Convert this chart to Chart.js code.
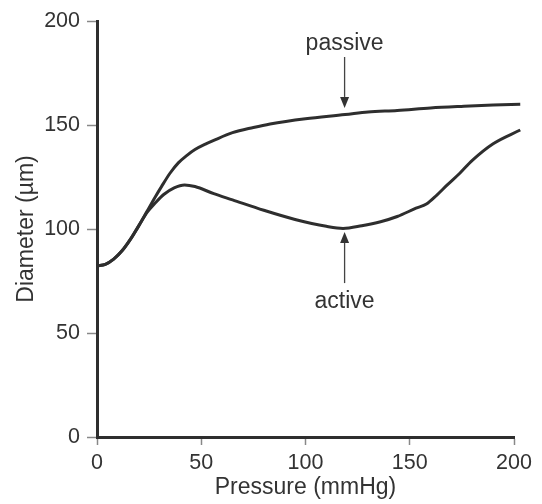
<!DOCTYPE html>
<html>
<head>
<meta charset="utf-8">
<script src="https://cdn.jsdelivr.net/npm/chart.js@4/dist/chart.umd.min.js"></script>
<style>
html,body{margin:0;padding:0;background:#fff;}
#wrap{width:542px;height:504px;}
</style>
</head>
<body>
<div id="wrap"><canvas id="c" width="542" height="504"></canvas></div>
<script>
// ---- data ----
const pressureActive = [0,4,8,12,16,20,24,28,32,37,42,47,56,65,80,95,110,118,127,136,144,153,158,163,168,174,180,190,203];
const diameterActive = [82.3,83,85.5,89.5,95,101.5,108,112.6,116.6,119.8,121.2,120.4,117,114,109,104.6,101.3,100.3,101.6,103.5,106,110,112,116.3,121.2,126.8,133,141,147.6];
const pressurePassive = [0,4,8,12,16,20,24,28,31,35,39,43,47,52,56,65,75,83,100,119,130,144,160,176,190,203];
const diameterPassive = [82.3,83,85.5,89.5,95,101.5,108.5,115.5,120.5,126.8,131.8,135.3,138.2,140.8,142.6,146.3,148.8,150.5,153,155,156.3,157,158.2,159,159.6,160];
const xTicks = [0,50,100,150,200];
const yTicks = [0,50,100,150,200];
const xTitle = 'Pressure (mmHg)';
const yTitle = 'Diameter (\u00b5m)';
// annotations (data units)
const noteLabels = ['passive','active'];
const noteX = [118.75,118.75];
const noteLabelY = [186,62];
const noteArrowFromY = [182.7,74];
const noteArrowToY = [158.2,98.6];

const FONT = "'Liberation Sans', Arial, Helvetica, sans-serif";
const INK = '#2e2e2e';
const TXT = '#333333';

function pts(xs, ys){ return xs.map((x,i)=>({x:x,y:ys[i]})); }

const notesPlugin = {
  id:'notes',
  afterDatasetsDraw(chart){
    const ctx = chart.ctx, xs = chart.scales.x, ys = chart.scales.y;
    ctx.save();
    for (let i=0;i<noteLabels.length;i++){
      const px = xs.getPixelForValue(noteX[i]);
      const fy = ys.getPixelForValue(noteArrowFromY[i]);
      const ty = ys.getPixelForValue(noteArrowToY[i]);
      const dir = ty > fy ? 1 : -1;
      const head = 11, hw = 4.5;
      ctx.strokeStyle = '#444'; ctx.lineWidth = 1.3;
      ctx.beginPath(); ctx.moveTo(px, fy); ctx.lineTo(px, ty - dir*head); ctx.stroke();
      ctx.fillStyle = '#333';
      ctx.beginPath(); ctx.moveTo(px, ty); ctx.lineTo(px-hw, ty-dir*head); ctx.lineTo(px+hw, ty-dir*head); ctx.closePath(); ctx.fill();
      ctx.font = '23px ' + FONT; ctx.fillStyle = TXT; ctx.textAlign='center'; ctx.textBaseline='alphabetic';
      ctx.fillText(noteLabels[i], px, ys.getPixelForValue(noteLabelY[i]));
    }
    ctx.restore();
  }
};

const tickOpts = (ticks, pad) => ({
  color: TXT, font:{family:FONT,size:21.5}, padding: pad, autoSkip:false
});

new Chart(document.getElementById('c'), {
  type:'line',
  data:{ datasets:[
    {label:'passive', data:pts(pressurePassive, diameterPassive), borderColor:INK, borderWidth:3, pointRadius:0, cubicInterpolationMode:'monotone', fill:false, clip:false},
    {label:'active', data:pts(pressureActive, diameterActive), borderColor:INK, borderWidth:3, pointRadius:0, cubicInterpolationMode:'monotone', fill:false, clip:false}
  ]},
  options:{
    responsive:false, animation:false, devicePixelRatio:1,
    layout:{padding:{top:21,right:28,left:0,bottom:0}},
    plugins:{legend:{display:false}, tooltip:{enabled:false}},
    scales:{
      x:{type:'linear', min:0, max:200,
        afterBuildTicks: s => { s.ticks = xTicks.map(v=>({value:v})); },
        afterFit: s => { s.height = 67; },
        ticks: tickOpts(xTicks, 5),
        grid:{drawOnChartArea:false, drawTicks:true, tickLength:8, tickColor:'#888', tickWidth:1.5},
        border:{color:INK, width:3},
        title:{display:true, text:xTitle, color:TXT, font:{family:FONT,size:23}, padding:{top:0,bottom:3}}
      },
      y:{type:'linear', min:0, max:200,
        afterBuildTicks: s => { s.ticks = yTicks.map(v=>({value:v})); },
        afterFit: s => { s.width = 97; },
        ticks: tickOpts(yTicks, 7),
        grid:{drawOnChartArea:false, drawTicks:true, tickLength:10, tickColor:'#888', tickWidth:1.5},
        border:{color:INK, width:3},
        title:{display:true, text:yTitle, color:TXT, font:{family:FONT,size:23}, padding:{top:13,bottom:0}}
      }
    }
  },
  plugins:[notesPlugin]
});
</script>
</body>
</html>
